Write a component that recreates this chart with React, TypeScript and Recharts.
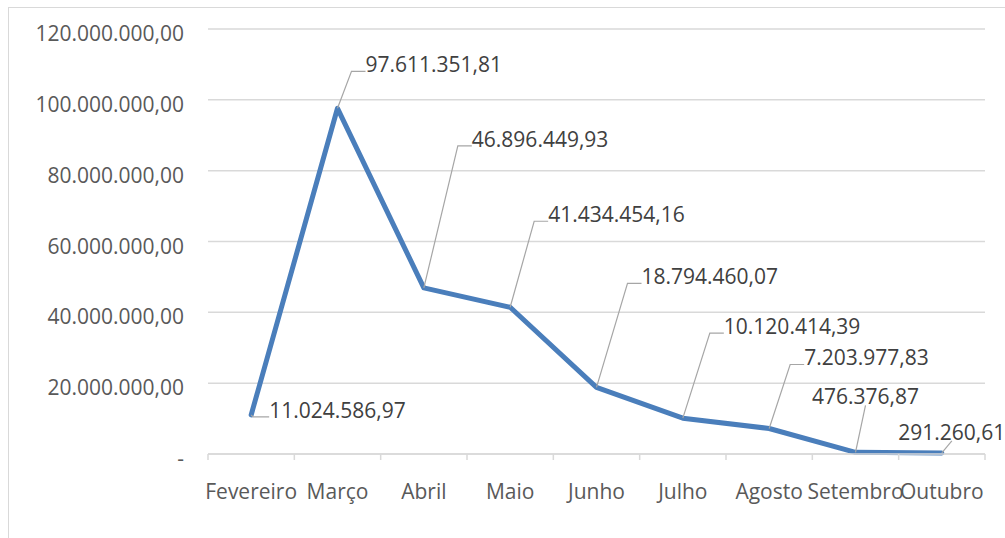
import React from 'react';
import { LineChart, Line, XAxis, YAxis, CartesianGrid, LabelList } from 'recharts';

const months = ['Fevereiro', 'Março', 'Abril', 'Maio', 'Junho', 'Julho', 'Agosto', 'Setembro', 'Outubro'];
const totals = [
  11024586.97, 97611351.81, 46896449.93, 41434454.16, 18794460.07,
  10120414.39, 7203977.83, 476376.87, 291260.61,
];
const yTicks = [0, 20000000, 40000000, 60000000, 80000000, 100000000, 120000000];

// label placement: elbow of the leader line relative to the point
const labelPos = [
  { dx: 2, dy: 2, hl: 16, mode: 'side' },
  { dx: 14, dy: -37, hl: 14, mode: 'side' },
  { dx: 34, dy: -142, hl: 14, mode: 'side' },
  { dx: 24, dy: -86, hl: 14, mode: 'side' },
  { dx: 31, dy: -104, hl: 14, mode: 'side' },
  { dx: 27, dy: -85, hl: 14, mode: 'side' },
  { dx: 21, dy: -64, hl: 14, mode: 'side' },
  { dx: 10, dy: -47, hl: 0, mode: 'top' },
  { dx: 10, dy: -12, hl: 0, mode: 'top' },
];

const W = 1005;
const H = 538;
const LEFT = 208;
const RIGHT = 20;
const BAND = (W - LEFT - RIGHT) / months.length;
const FONT = '"Open Sans", sans-serif';

const data = months.map((m, i) => ({ month: m, total: totals[i] }));

const fmt = (v: number) => {
  const [i, d] = v.toFixed(2).split('.');
  return i.replace(/\B(?=(\d{3})+(?!\d))/g, '.') + ',' + d;
};

const MonthTick = (props: any) => {
  const { x, y, payload, index } = props;
  const last = index === months.length - 1;
  return (
    <g>
      <line x1={x - BAND / 2} x2={x - BAND / 2} y1={y} y2={y + 6} stroke="#d9d9d9" strokeWidth={1.5} />
      {last && <line x1={x + BAND / 2} x2={x + BAND / 2} y1={y} y2={y + 6} stroke="#d9d9d9" strokeWidth={1.5} />}
      <text x={x} y={y + 45} textAnchor="middle" fill="#595959" fontSize={21} fontFamily={FONT}>
        {payload.value}
      </text>
    </g>
  );
};

const ValueTick = (props: any) => {
  const { x, y, payload } = props;
  return (
    <text x={x} y={y + 12} textAnchor="end" fill="#595959" fontSize={21} fontFamily={FONT}>
      {payload.value === 0 ? '-' : fmt(payload.value)}
    </text>
  );
};

const renderLabel = (props: any) => {
  const { x, y, index, value } = props;
  const p = labelPos[index];
  const ex = x + p.dx;
  const ey = y + p.dy;
  const txt = fmt(value);
  if (p.mode === 'top') {
    return (
      <g>
        <line x1={x} y1={y} x2={ex} y2={ey} stroke="#a6a6a6" strokeWidth={1.2} />
        <text x={ex} y={ey - 1} textAnchor="middle" fill="#404040" fontSize={21} fontFamily={FONT}>{txt}</text>
      </g>
    );
  }
  return (
    <g>
      <polyline points={`${x},${y} ${ex},${ey} ${ex + p.hl},${ey}`} fill="none" stroke="#a6a6a6" strokeWidth={1.2} />
      <text x={ex + p.hl} y={ey + 1} fill="#404040" fontSize={21} fontFamily={FONT}>{txt}</text>
    </g>
  );
};

export default function App() {
  return (
    <div style={{ position: 'absolute', left: 0, top: 0, width: W, height: H, overflow: 'hidden', background: '#fff' }}>
      <div
        style={{
          position: 'absolute', left: 8, top: 7, width: W, height: H,
          border: '1.5px solid #d9d9d9', boxSizing: 'border-box',
        }}
      />
      <div style={{ position: 'absolute', left: 0, top: 0 }}>
        <LineChart width={W} height={H} data={data} margin={{ top: 29, right: RIGHT, left: 0, bottom: 0 }}>
          <CartesianGrid vertical={false} stroke="#d9d9d9" strokeWidth={1.5} />
          <XAxis
            dataKey="month"
            height={84}
            interval={0}
            padding={{ left: BAND / 2, right: BAND / 2 }}
            tickSize={0}
            tickMargin={0}
            tickLine={false}
            axisLine={{ stroke: '#d9d9d9', strokeWidth: 1.5 }}
            tick={<MonthTick />}
          />
          <YAxis
            width={LEFT}
            domain={[0, 120000000]}
            ticks={yTicks}
            interval={0}
            tickSize={0}
            tickMargin={24}
            axisLine={false}
            tickLine={false}
            tick={<ValueTick />}
          />
          <Line
            type="linear"
            dataKey="total"
            stroke="#4a7ebb"
            strokeWidth={5}
            strokeLinejoin="round"
            strokeLinecap="round"
            dot={false}
            activeDot={false}
            isAnimationActive={false}
          >
            <LabelList dataKey="total" content={renderLabel} />
          </Line>
        </LineChart>
      </div>
    </div>
  );
}
